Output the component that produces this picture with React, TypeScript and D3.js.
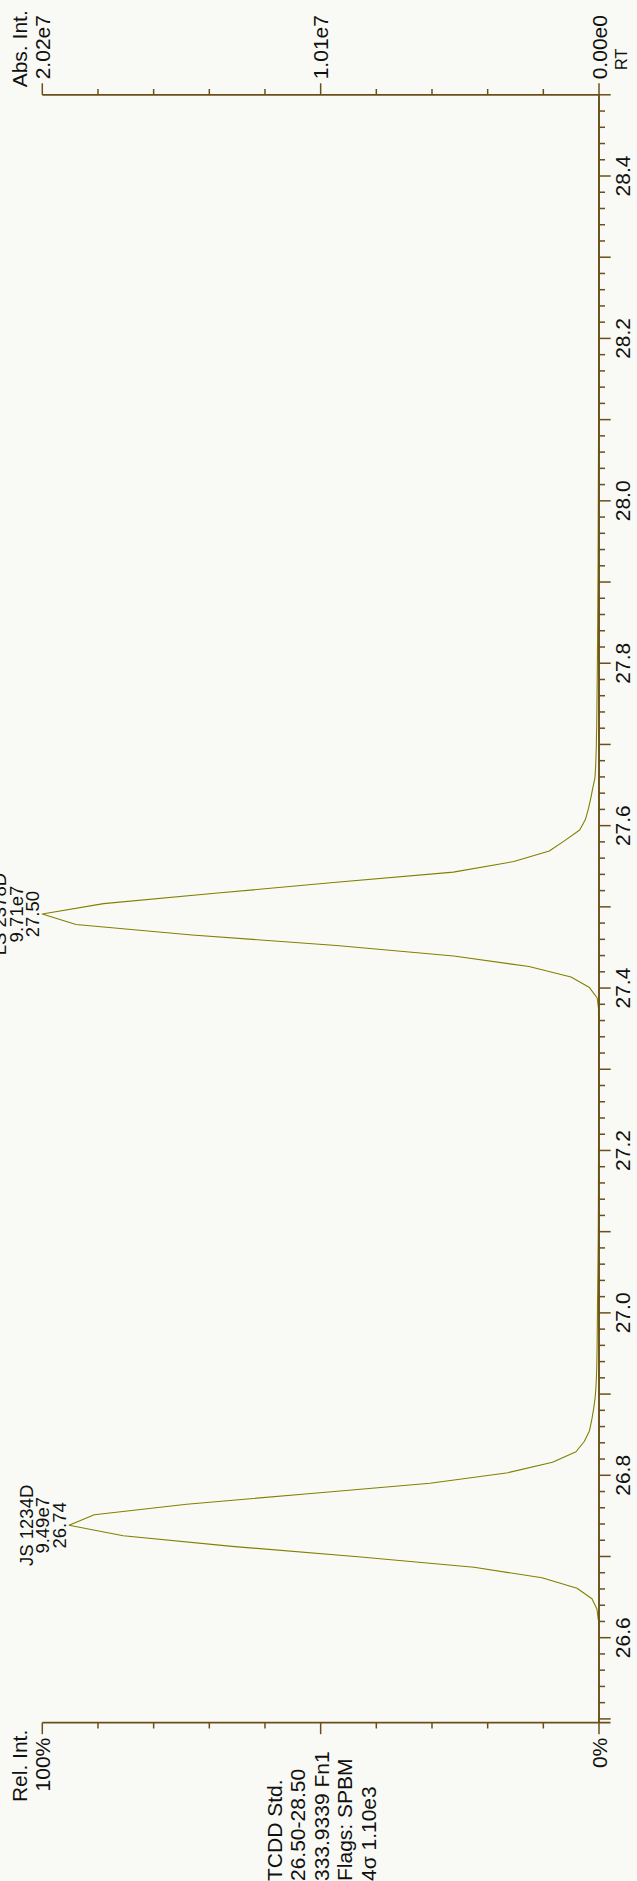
import React from "react";
import * as d3 from "d3";

// ---- data (retention time in min, relative intensity in %) ----
const rtValues = [
  26.622, 26.635, 26.6479, 26.6608, 26.6738, 26.6867, 26.6996, 26.7125, 26.7255, 26.7384,
  26.7514, 26.7644, 26.7773, 26.7902, 26.8032, 26.8161, 26.829, 26.8419, 26.8549, 26.8678,
  26.8808, 26.8937, 26.9066, 26.9195, 26.9325, 26.9584, 26.9843, 27.0102, 27.0361, 27.062,
  27.1, 27.15, 27.22, 27.3, 27.3489, 27.3619, 27.3748, 27.3877, 27.4006, 27.4136,
  27.4265, 27.4394, 27.4524, 27.4653, 27.4782, 27.4911, 27.504, 27.517, 27.5299, 27.5428,
  27.5558, 27.5687, 27.5816, 27.5946, 27.6075, 27.6204, 27.6333, 27.6463, 27.6592, 27.6721,
  27.6851, 27.698, 27.711, 27.7239, 27.76, 27.8, 27.853, 27.92, 27.99, 28.1,
  28.25, 28.4, 28.495,
];
const relIntensity = [
  0.13, 0.36, 1.26, 3.95, 10.24, 22.45, 43.29, 65.92, 85.45, 95.2,
  90.66, 74.06, 52.22, 30.36, 16.35, 8.35, 4.13, 2.62, 1.71, 1.31,
  0.99, 0.72, 0.57, 0.47, 0.41, 0.34, 0.3, 0.27, 0.22, 0.18,
  0.13, 0.1, 0.08, 0.07, 0.07, 0.08, 0.09, 0.32, 1.71, 5.03,
  12.57, 26.1, 47.17, 73.1, 93.95, 100.0, 89.0, 68.5, 47.7, 26.17,
  15.3, 8.93, 6.16, 3.47, 2.44, 1.92, 1.49, 1.12, 0.72, 0.61,
  0.54, 0.48, 0.45, 0.41, 0.35, 0.29, 0.23, 0.17, 0.13, 0.07,
  0.05, 0.05, 0.05,
];

const peakNames = ["JS 1234D", "LS 2378D"];
const peakAreas = ["9.49e7", "9.71e7"];
const peakRTs = ["26.74", "27.50"];

const rtTickLabels = ["26.6", "26.8", "27.0", "27.2", "27.4", "27.6", "27.8", "28.0", "28.2", "28.4"];
const absTickLabels = ["0.00e0", "1.01e7", "2.02e7"];
const absMax = 2.02e7;
const relTickLabels = ["0%", "100%"];
const infoLines = ["TCDD Std.", "26.50-28.50", "333.9339 Fn1", "Flags: SPBM", "4σ 1.10e3"];

// ---- layout (drawn in an unrotated frame, then turned -90°) ----
const PAGE_W = 637;
const PAGE_H = 1881;
const FONT = "'Liberation Sans', Arial, Helvetica, sans-serif";
const AXIS = "#6b4f1a";
const TRACE = "#808000";
const BG = "#f9faf5";
const TXT = "#111";

export default function App() {
  const xLeft = 158.3;
  const xRight = 1786.2;
  const yTop = 42.3;
  const yBot = 599;

  const x = d3.scaleLinear().domain([26.5, 28.5]).range([162.1, 1786.2]);
  const y = d3.scaleLinear().domain([0, 100]).range([yBot, yTop]);
  const yAbs = d3.scaleLinear().domain([0, absMax]).range([yBot, yTop]);

  const pts = rtValues.map((rt, i) => [rt, relIntensity[i]] as [number, number]);
  const line = d3
    .line<[number, number]>()
    .x((d) => x(d[0]))
    .y((d) => y(d[1]));

  const pctTicks = d3.range(0, 101, 10);
  const rtTicks = d3.range(0, 101).map((i) => +(26.5 + i * 0.02).toFixed(2));
  const absTickVals = absTickLabels.map((_, i) => (i * absMax) / 2);

  const fs = 21;
  const majorLen = 11.5;
  const minorLen = 5.8;

  // apex of each labelled peak
  const apexes = peakRTs.map((r) => {
    const t = +r;
    const cand = pts.filter((p) => Math.abs(p[0] - t) < 0.03);
    return cand.reduce((a, b) => (b[1] > a[1] ? b : a));
  });

  return (
    <div style={{ position: "absolute", left: 0, top: 0, width: PAGE_W, height: PAGE_H }}>
      <svg width={PAGE_W} height={PAGE_H} style={{ display: "block" }} fontFamily={FONT}>
        <rect x={0} y={0} width={PAGE_W} height={PAGE_H} fill={BG} />
        <g transform={`translate(0,${PAGE_H}) rotate(-90)`}>
          {/* trace */}
          <path d={line(pts) || ""} fill="none" stroke={TRACE} strokeWidth={1.1} strokeLinejoin="round" />

          {/* left (relative) axis */}
          <line x1={xLeft} x2={xLeft} y1={yTop} y2={yBot + majorLen} stroke={AXIS} strokeWidth={1.7} />
          {pctTicks.map((p) => (
            <line
              key={"lt" + p}
              x1={xLeft}
              x2={xLeft - (p % 50 === 0 ? majorLen : minorLen)}
              y1={y(p)}
              y2={y(p)}
              stroke={AXIS}
              strokeWidth={1.5}
            />
          ))}
          {relTickLabels.map((lab, i) => (
            <text key={lab} x={xLeft - 15} y={y(i * 100) + 7.5} fontSize={fs} textAnchor="end" fill={TXT}>
              {lab}
            </text>
          ))}
          <text x={xLeft - 7} y={27.3} fontSize={fs} textAnchor="end" fill={TXT}>
            Rel. Int.
          </text>

          {/* right (absolute) axis */}
          <line x1={xRight} x2={xRight} y1={yTop} y2={yBot} stroke={AXIS} strokeWidth={1.7} />
          {pctTicks.map((p) => (
            <line
              key={"rt" + p}
              x1={xRight}
              x2={xRight + (p % 50 === 0 ? majorLen : minorLen)}
              y1={y(p)}
              y2={y(p)}
              stroke={AXIS}
              strokeWidth={1.5}
            />
          ))}
          {absTickLabels.map((lab, i) => (
            <text key={lab} x={xRight + 15.5} y={yAbs(absTickVals[i]) + 7.5} fontSize={fs} fill={TXT}>
              {lab}
            </text>
          ))}
          <text x={xRight + 7.5} y={27.3} fontSize={fs} fill={TXT}>
            Abs. Int.
          </text>

          {/* bottom (RT) axis */}
          <line x1={xLeft} x2={xRight} y1={yBot} y2={yBot} stroke={AXIS} strokeWidth={1.9} />
          {rtTicks.map((t, i) => (
            <line
              key={"xt" + i}
              x1={x(t)}
              x2={x(t)}
              y1={yBot}
              y2={yBot + (i % 5 === 0 ? 11.7 : 6)}
              stroke={AXIS}
              strokeWidth={1.5}
            />
          ))}
          {rtTickLabels.map((lab) => (
            <text key={lab} x={x(+lab)} y={630} fontSize={fs} textAnchor="middle" fill={TXT}>
              {lab}
            </text>
          ))}
          <text x={1811} y={627} fontSize={16.3} fill={TXT}>
            RT
          </text>

          {/* peak labels */}
          {apexes.map((a, i) => {
            const px = x(a[0]);
            const py = y(a[1]);
            const lines = [peakRTs[i], peakAreas[i], peakNames[i]];
            return (
              <g key={"pk" + i}>
                {lines.map((s, j) => (
                  <text
                    key={j}
                    x={px}
                    y={py - 3.4 - j * 16.4}
                    fontSize={18.5}
                    textAnchor="middle"
                    fill={TXT}
                  >
                    {s}
                  </text>
                ))}
              </g>
            );
          })}

          {/* info block */}
          {infoLines.map((s, i) => (
            <text key={s} x={0} y={282 + i * 23.4} fontSize={fs} fill={TXT}>
              {s}
            </text>
          ))}
        </g>
      </svg>
    </div>
  );
}
